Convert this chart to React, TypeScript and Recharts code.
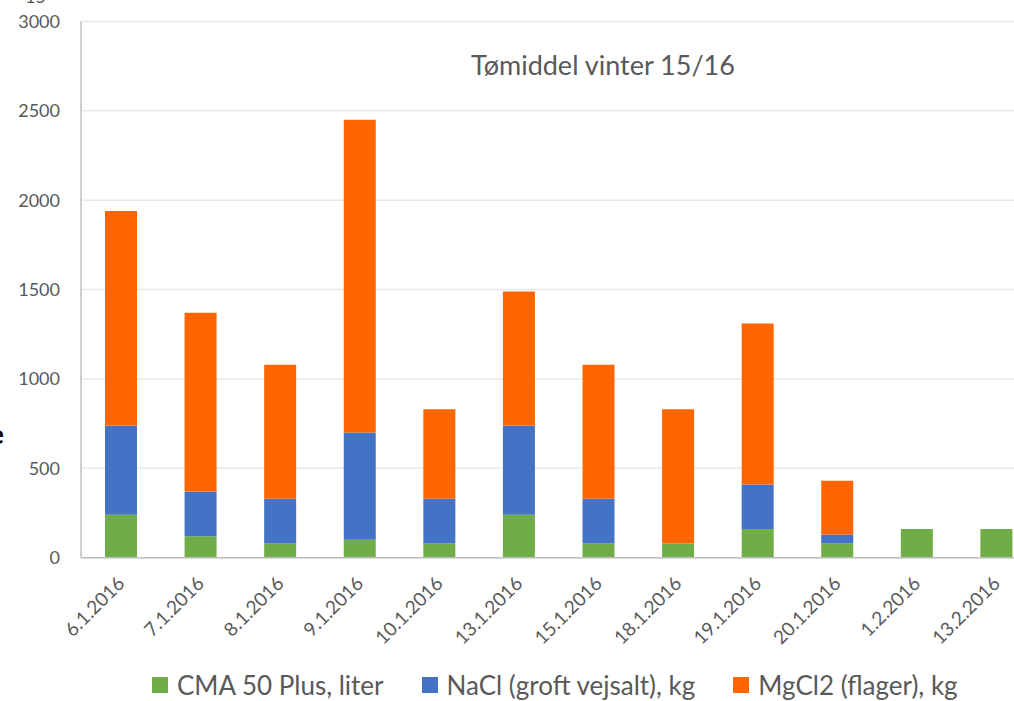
import { BarChart, Bar, XAxis, YAxis, CartesianGrid } from "recharts";

// Dates along the x-axis
const dates = [
  "6.1.2016", "7.1.2016", "8.1.2016", "9.1.2016", "10.1.2016", "13.1.2016",
  "15.1.2016", "18.1.2016", "19.1.2016", "20.1.2016", "1.2.2016", "13.2.2016",
];

// Stacked amounts per date
const cma = [240, 120, 80, 100, 80, 240, 80, 80, 160, 80, 160, 160];
const nacl = [500, 250, 250, 600, 250, 500, 250, 0, 250, 50, 0, 0];
const mgcl2 = [1200, 1000, 750, 1750, 500, 750, 750, 750, 900, 300, 0, 0];

const yTicks = [0, 500, 1000, 1500, 2000, 2500, 3000];

const series = [
  { key: "cma", name: "CMA 50 Plus, liter", color: "#70ad47" },
  { key: "nacl", name: "NaCl (groft vejsalt), kg", color: "#4472c4" },
  { key: "mgcl2", name: "MgCl2 (flager), kg", color: "#ff6600" },
];

const FONT = "Lato, 'Open Sans', sans-serif";
const TEXT = "#595959";

const data = dates.map((date, i) => ({
  date,
  cma: cma[i],
  nacl: nacl[i],
  mgcl2: mgcl2[i],
}));

// Rotated date label under each bar
const DateTick = (props: any) => {
  const { x, y, payload } = props;
  const tx = x + 5;
  const ty = y + 19;
  return (
    <text
      x={tx}
      y={ty}
      textAnchor="end"
      fill={TEXT}
      fontSize={19}
      fontFamily={FONT}
      transform={`rotate(-45, ${tx}, ${ty})`}
    >
      {payload.value}
    </text>
  );
};

export default function App() {
  return (
    <div
      style={{
        position: "absolute",
        left: 0,
        top: 0,
        width: 1014,
        height: 701,
        overflow: "hidden",
        background: "#fff",
        fontFamily: FONT,
      }}
    >
      {/* cut-off bits from the neighbouring figure */}
      <div style={{ position: "absolute", left: 25, top: -14, fontSize: 18, lineHeight: "20px", color: TEXT }}>15</div>
      <div style={{ position: "absolute", left: -10, top: 418, fontSize: 26, fontWeight: 700, color: "#000" }}>e</div>

      <BarChart
        width={1050}
        height={701}
        data={data}
        margin={{ top: 21.5, right: 14, bottom: 0, left: 0 }}
        barSize={32}
      >
        <CartesianGrid vertical={false} stroke="#e8e8e8" strokeWidth={1.5} />
        <XAxis
          dataKey="date"
          height={143.3}
          interval={0}
          tickLine={false}
          axisLine={{ stroke: "#bfbfbf", strokeWidth: 1.5 }}
          tick={<DateTick />}
        />
        <YAxis
          width={81}
          domain={[0, 3000]}
          ticks={yTicks}
          tickLine={false}
          tickSize={0}
          tickMargin={21}
          axisLine={{ stroke: "#bfbfbf", strokeWidth: 1.5 }}
          tick={{ fill: TEXT, fontSize: 18, fontFamily: FONT }}
        />
        {series.map((s) => (
          <Bar
            key={s.key}
            dataKey={s.key}
            name={s.name}
            stackId="a"
            fill={s.color}
            isAnimationActive={false}
          />
        ))}
        <text x={471} y={75} fill={TEXT} fontSize={27} fontFamily={FONT}>
          Tømiddel vinter 15/16
        </text>
      </BarChart>

      {/* legend */}
      <div
        style={{
          position: "absolute",
          top: 669,
          left: 152,
          display: "flex",
          alignItems: "center",
          gap: 38,
          fontSize: 26,
          color: TEXT,
          whiteSpace: "nowrap",
        }}
      >
        {series.map((s) => (
          <div key={s.key} style={{ display: "flex", alignItems: "center", gap: 9 }}>
            <span style={{ width: 16, height: 16, background: s.color, display: "inline-block" }} />
            <span>{s.name}</span>
          </div>
        ))}
      </div>
    </div>
  );
}
